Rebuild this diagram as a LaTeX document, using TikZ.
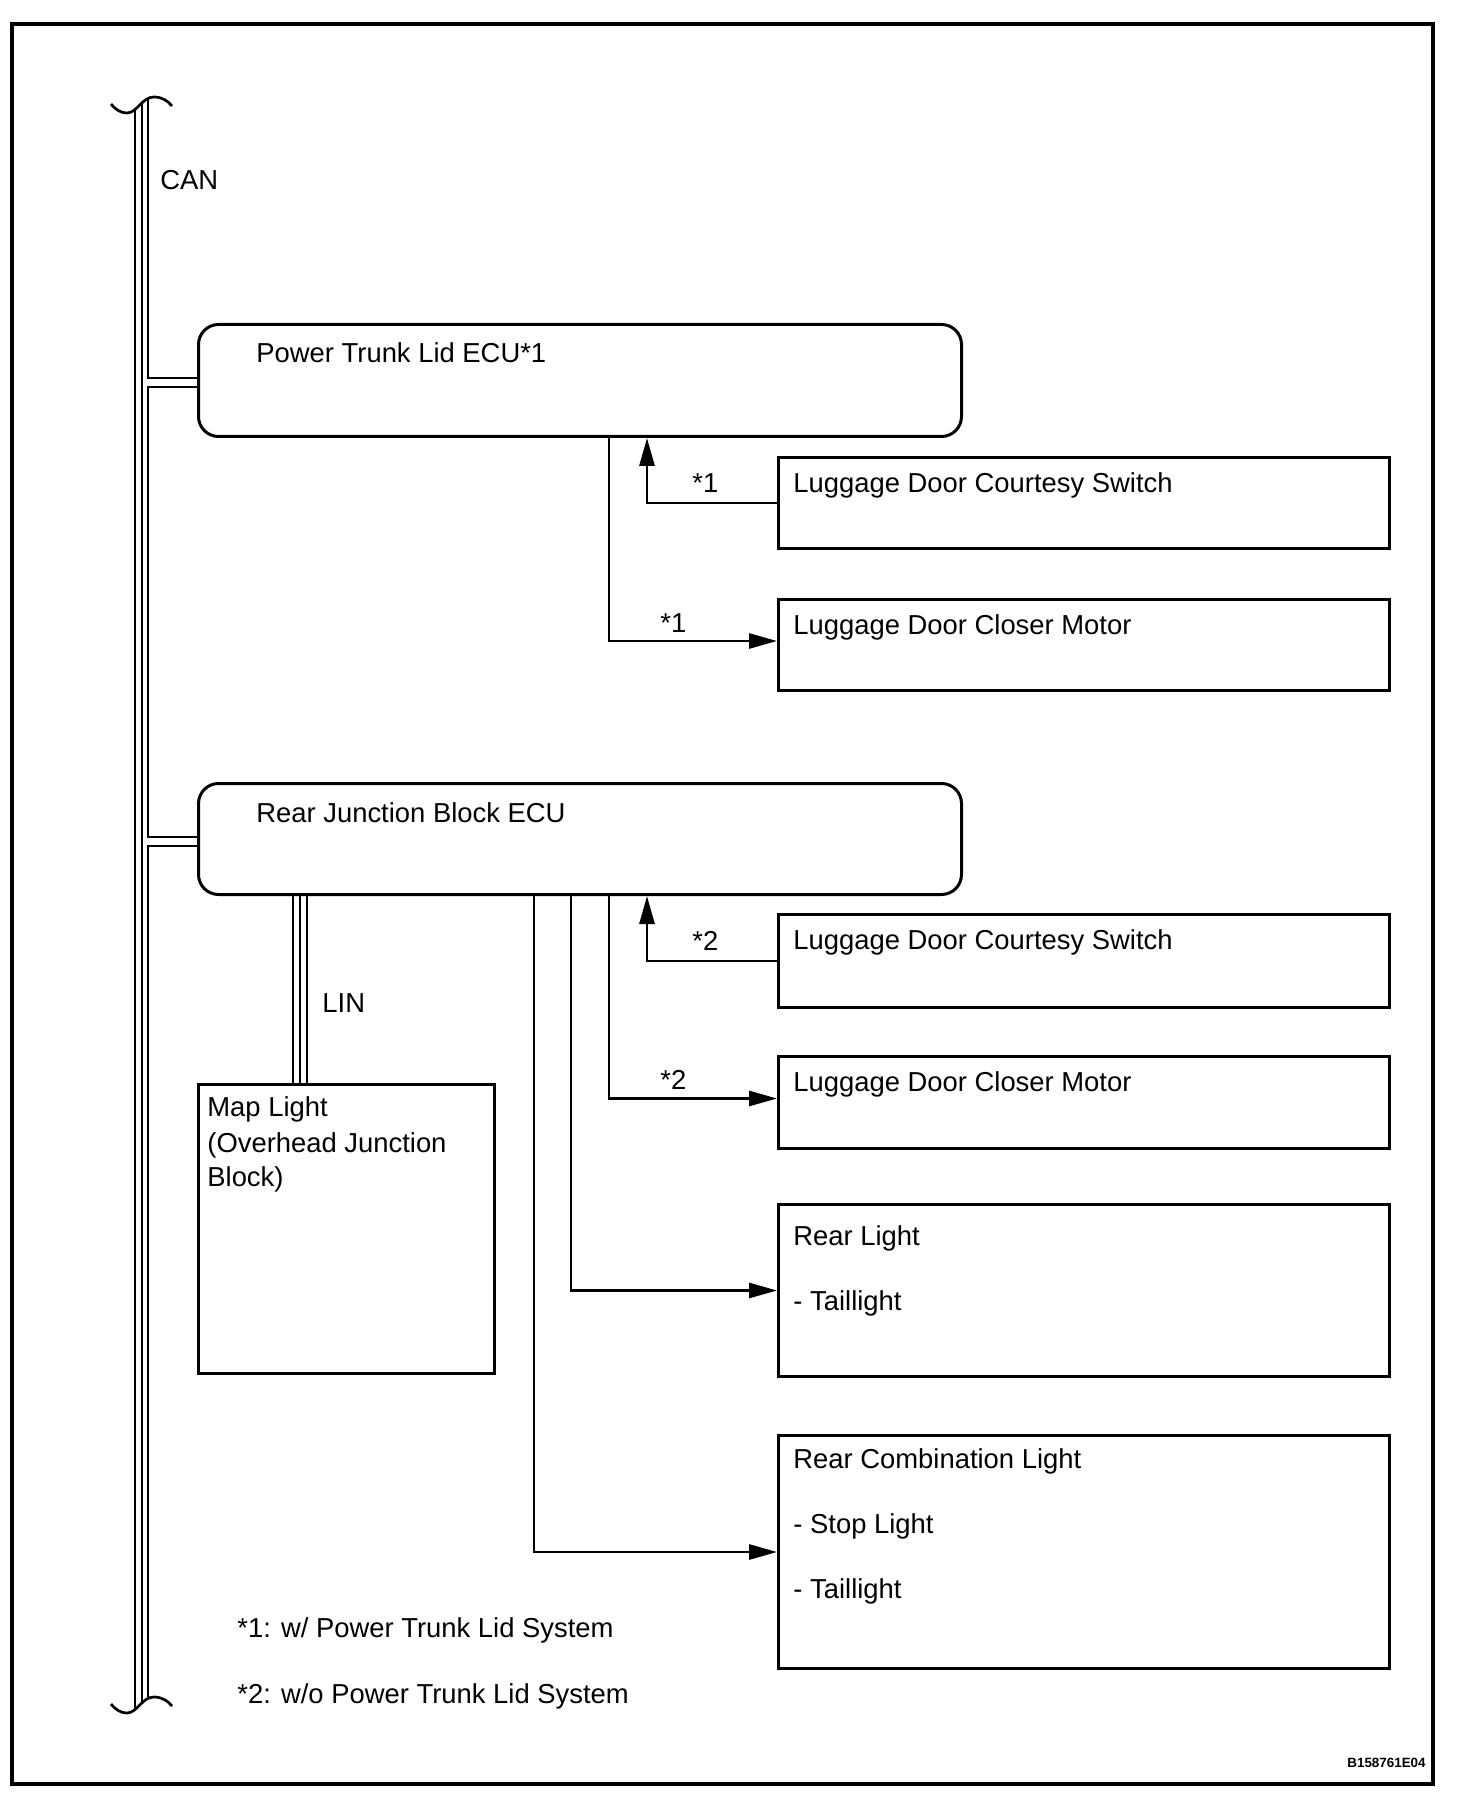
\documentclass[tikz,border=0pt]{standalone}
\usepackage{fontspec}
\setmainfont{Liberation Sans}
\usetikzlibrary{arrows.meta,calc}

\def\boxx{777}   % left edge of the right column
\def\boxw{305.5pt}

\begin{document}
\begin{tikzpicture}[x=0.5pt,y=-0.5pt,
    every node/.style={font=\fontsize{13.7}{16}\selectfont},
    ecu/.style={draw,line width=1.5pt,rounded corners=10pt,anchor=north west,
      minimum width=381.5pt,inner sep=0pt},
    unit/.style={draw,line width=1.5pt,anchor=north west,
      minimum width=\boxw,inner sep=0pt},
    lbl/.style={anchor=base west,inner sep=0pt},
    wire/.style={line width=1.4pt},
    sig/.style={wire,-{Triangle[length=14pt,width=7.5pt]}},
    bus/.style={line width=1.35pt}]
  \useasboundingbox (0,0) rectangle (1472,1802);
  \draw[line width=1.6pt] (12,24) rectangle (1433,1784);

  % ECUs
  \node[ecu,minimum height=56pt] (ptl) at (197,323) {};
  \node[ecu,minimum height=55.5pt] (rjb) at (197,782) {};
  \node[lbl] (ptl-t) at ($(ptl.north west)+(59,40)$) {Power Trunk Lid ECU*1};
  \node[lbl] (rjb-t) at ($(rjb.north west)+(59,40)$) {Rear Junction Block ECU};

  % right column
  \foreach \name/\top/\ht in {sw1/456/91, clm1/598/91, sw2/913/93,
      clm2/1055/92, rear/1203/172, comb/1434/233}
    \node[unit,minimum height=\ht*0.5pt] (\name) at (\boxx,\top) {};
  \node[lbl] (sw1-t) at ($(sw1.north west)+(16,37)$) {Luggage Door Courtesy Switch};
  \node[lbl] (clm1-t) at ($(clm1.north west)+(16,36)$) {Luggage Door Closer Motor};
  \node[lbl] (sw2-t) at ($(sw2.north west)+(16,36)$) {Luggage Door Courtesy Switch};
  \node[lbl] (clm2-t) at ($(clm2.north west)+(16,36)$) {Luggage Door Closer Motor};
  \node[lbl] (rear-t) at ($(rear.north west)+(16,42)$) {Rear Light};
  \node[lbl] (rear-a) at ($(rear.north west)+(16,107)$) {- Taillight};
  \node[lbl] (comb-t) at ($(comb.north west)+(16,34)$) {Rear Combination Light};
  \node[lbl] (comb-a) at ($(comb.north west)+(16,99)$) {- Stop Light};
  \node[lbl] (comb-b) at ($(comb.north west)+(16,164)$) {- Taillight};

  % map light
  \node[unit,minimum width=148pt,minimum height=144.5pt] (map) at (197,1083) {};
  \node[lbl] (map-t) at ($(map.north west)+(10,33)$) {Map Light};
  \node[lbl] (map-a) at ($(map.north west)+(10,69)$) {(Overhead Junction};
  \node[lbl] (map-b) at ($(map.north west)+(10,103)$) {Block)};

  % CAN bus with break marks
  \foreach \dy in {0,-800}
    \draw[bus,yshift=\dy pt] (111,104) .. controls (116,110) and (121,113) .. (127,113)
      .. controls (137,113) and (142,97) .. (154,97)
      .. controls (162,97) and (168,101) .. (172,106);
  \draw[bus] (135,109) -- (135,1709);
  \draw[bus] (142,103) -- (142,1703);
  \draw[bus] (148,99) |- ($(ptl.north west)+(0,55)$);
  \draw[bus] ($(ptl.north west)+(0,64)$) -| ($(rjb.north west)+(-49,55)$)
    -- ($(rjb.north west)+(0,55)$);
  \draw[bus] ($(rjb.north west)+(0,64)$) -| (148,1699);
  \node[lbl] (can) at (160,190) {CAN};

  % LIN
  \foreach \dx in {96,103,110}
    \draw[bus] ($(rjb.south west)+(\dx,0)$) -- ($(map.north west)+(\dx,0)$);
  \node[lbl] (lin) at (322,1012) {LIN};

  % signal lines
  \draw[sig] (sw1.west) -| ($(ptl.south west)+(450,0)$);
  \draw[sig] ($(ptl.south west)+(412,0)$) |- ([yshift=2pt]clm1.west);
  \draw[sig] (sw2.west) -| ($(rjb.south west)+(450,0)$);
  \draw[sig] ($(rjb.south west)+(412,0)$) |- ([yshift=2pt]clm2.west);
  \draw[sig] ($(rjb.south west)+(374,0)$) |- (rear.west);
  \draw[sig] ($(rjb.south west)+(337,0)$) |- (comb.west);
  \node[lbl] (n1a) at (692,492) {*1};
  \node[lbl] (n1b) at (660,632) {*1};
  \node[lbl] (n2a) at (692,950) {*2};
  \node[lbl] (n2b) at (660,1089) {*2};

  % notes
  \node[lbl] (note1) at (237,1637) {*1: w/ Power Trunk Lid System};
  \node[lbl] (note2) at (237,1703) {*2: w/o Power Trunk Lid System};
  \node[anchor=base east,inner sep=0pt,font=\fontsize{6.7}{8}\selectfont\bfseries]
    (id) at (1426,1767) {B158761E04};
\end{tikzpicture}
\end{document}
